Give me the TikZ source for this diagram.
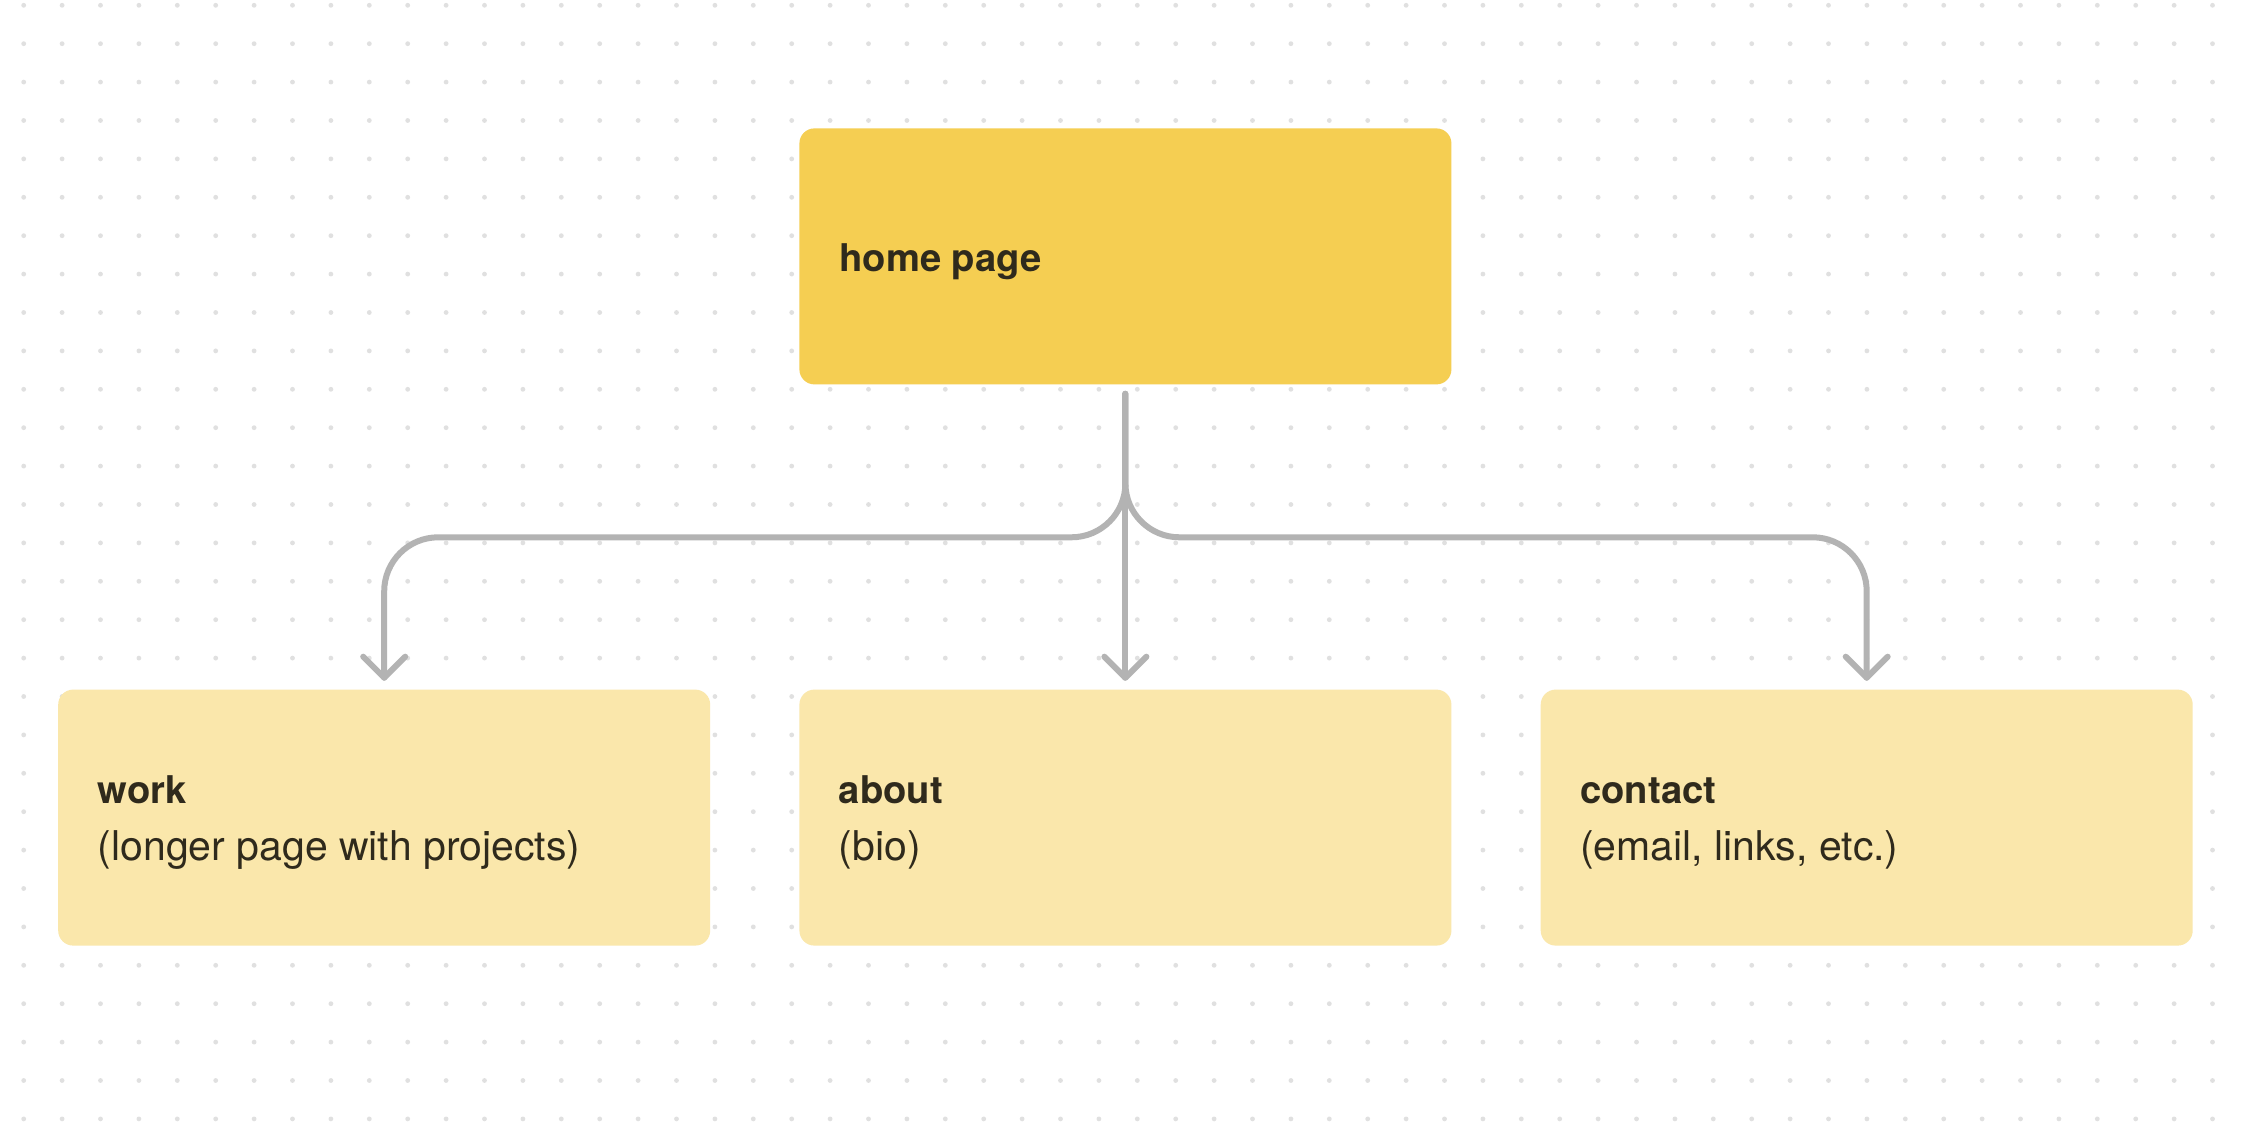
\documentclass[tikz,border=0pt]{standalone}
\usepackage{fontspec}
\setmainfont{TeX Gyre Heros}
\usetikzlibrary{calc}
\definecolor{topfill}{HTML}{F5CE52}
\definecolor{subfill}{HTML}{FAE7AB}
\definecolor{ink}{HTML}{2F2A1C}
\definecolor{conn}{HTML}{B3B3B3}
\definecolor{dotc}{HTML}{E0E0E0}
\begin{document}
\begin{tikzpicture}[x=0.5pt,y=-0.5pt,
  card/.style={rounded corners=7.5pt, minimum width=326pt, minimum height=128pt, inner sep=0pt, draw=none},
  title/.style={font=\bfseries\fontsize{19.1}{24}\selectfont, text=ink, inner sep=0pt, anchor=base west},
  sub/.style={font=\fontsize{20.5}{24}\selectfont, text=ink, inner sep=0pt, anchor=base west},
  link/.style={draw=conn, line width=3pt, line cap=round, line join=round, rounded corners=27pt},
  chev/.style={draw=conn, line width=3pt, line cap=round, line join=round}]
\useasboundingbox (0,0) rectangle (2248,1122);
\fill[white] (0,0) rectangle (2248,1122);
% dot grid
\foreach \i in {0,...,57}{
  \foreach \j in {0,...,29}{
    \fill[dotc] (23.7+38.4*\i, 5.3+38.4*\j) circle (1.2pt);
  }
}
% cards
\node[card, fill=topfill] (home) at (1125.4,256.4) {};
\node[card, fill=subfill] (work) at (384.2,817.6) {};
\node[card, fill=subfill] (about) at (1125.4,817.6) {};
\node[card, fill=subfill] (contact) at (1866.7,817.6) {};
% texts
\node[title] (homeT) at ($(home.west)+(40,15.3)$) {home page};
\node[title] (workT) at ($(work.west)+(39.5,-14)$) {work};
\node[sub] (workS) at ($(work.west)+(39.5,43.2)$) {(longer page with projects)};
\node[title] (aboutT) at ($(about.west)+(39.5,-14)$) {about};
\node[sub] (aboutS) at ($(about.west)+(39.5,43.2)$) {(bio)};
\node[title] (contactT) at ($(contact.west)+(39.5,-14)$) {contact};
\node[sub] (contactS) at ($(contact.west)+(39.5,43.2)$) {(email, links, etc.)};
% connectors
\coordinate (src) at ($(home.south)+(0,9)$);
\coordinate (bus) at ($(src)+(0,143.5)$);
\coordinate (tw) at ($(work.north)+(0,-11.5)$);
\coordinate (ta) at ($(about.north)+(0,-11.5)$);
\coordinate (tc) at ($(contact.north)+(0,-11.5)$);
\draw[link] (src) -- (bus) -| (tw);
\draw[link] (src) -- (bus) -| (tc);
\draw[link] (src) -- (ta);
\draw[chev] ($(tw)+(-21,-21)$) -- (tw) -- ($(tw)+(21,-21)$);
\draw[chev] ($(ta)+(-21,-21)$) -- (ta) -- ($(ta)+(21,-21)$);
\draw[chev] ($(tc)+(-21,-21)$) -- (tc) -- ($(tc)+(21,-21)$);
\end{tikzpicture}
\end{document}
